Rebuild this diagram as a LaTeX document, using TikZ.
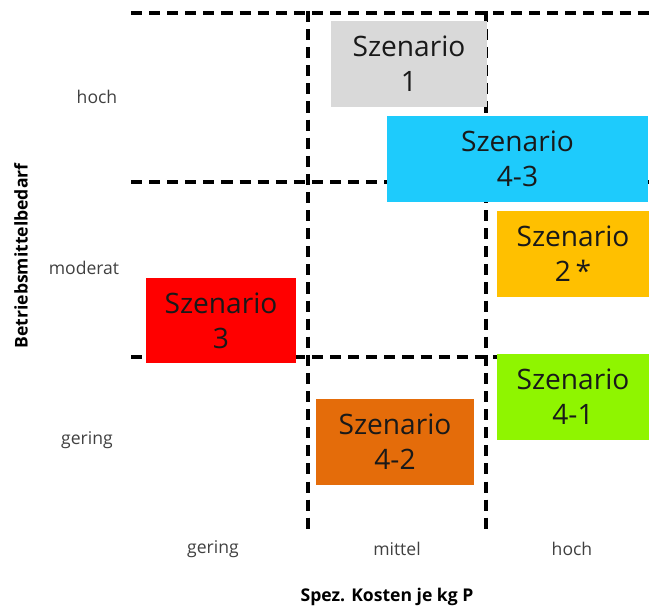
\documentclass[tikz,border=0pt]{standalone}
\usepackage{fontspec}
\setmainfont{Open Sans}
\definecolor{mygray}{RGB}{217,217,217}
\definecolor{mycyan}{RGB}{30,203,252}
\definecolor{myamber}{RGB}{255,192,0}
\definecolor{mygreen}{RGB}{143,245,0}
\definecolor{myorange}{RGB}{228,108,10}
\definecolor{myred}{RGB}{255,0,0}

\begin{document}
\begin{tikzpicture}[x=0.02cm, y=-0.02cm,
		grid/.style={dash pattern=on 6.3pt off 4pt, line width=2pt},
		scen/.style={inner sep=0pt, align=center, text=black!90, font=\fontsize{16}{20}\selectfont},
		lbl/.style={text=black!75, font=\fontsize{10}{12}\selectfont},
		axis/.style={text=black, font=\fontsize{10}{12}\selectfont\bfseries}]
			\useasboundingbox (0,0) rectangle (652,607);

			% Draw the dashed grid lines
			\draw[grid] (131,13) -- (652,13);
			\draw[grid] (131,182) -- (652,182);
			\draw[grid] (131,357) -- (652,357);
			\draw[grid] (308,11) -- (308,532);
			\draw[grid] (486,11) -- (486,532);

			% Draw the scenario boxes
			\node[scen, fill=mygray, minimum width=3.12cm, minimum height=1.72cm] (s1) at (409,64) {Szenario\\1};
			\node[scen, fill=mycyan, minimum width=5.22cm, minimum height=1.72cm] (s43) at (517.5,159) {Szenario\\4-3};
			\node[scen, fill=myamber, minimum width=3.04cm, minimum height=1.72cm] (s2) at (573,254) {Szenario\\2\,*};
			\node[scen, fill=mygreen, minimum width=3.04cm, minimum height=1.72cm] (s41) at (573,397) {Szenario\\4-1};
			\node[scen, fill=myorange, minimum width=3.16cm, minimum height=1.72cm] (s42) at (395,442) {Szenario\\4-2};
			\node[scen, fill=myred, minimum width=3.0cm, minimum height=1.70cm] (s3) at (221,320.5) {Szenario\\3};

			% Label the levels
			\node[lbl] (yhoch) at (97,97) {hoch};
			\node[lbl] (ymoderat) at (84,268) {moderat};
			\node[lbl] (ygering) at (87,440) {gering};
			\node[lbl] (xgering) at (213,549) {gering};
			\node[lbl] (xmittel) at (397,549) {mittel};
			\node[lbl] (xhoch) at (572,549) {hoch};

			% Put the axis titles
			\node[axis, rotate=90] (ytitle) at (21,256) {Betriebsmittelbedarf};
			\node[axis] (xtitle) at (387,597) {Spez. Kosten je kg P};
		\end{tikzpicture}
\end{document}
